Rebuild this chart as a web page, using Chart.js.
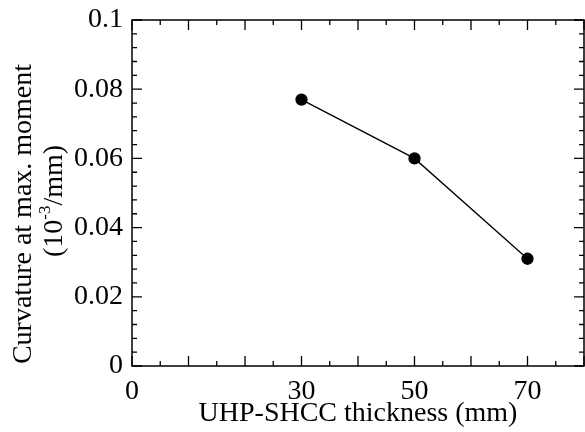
<!DOCTYPE html>
<html>
<head>
<meta charset="utf-8">
<script src="https://cdn.jsdelivr.net/npm/chart.js@4"></script>
<style>
  html, body { margin: 0; padding: 0; background: #fff; }
  #wrap { width: 585px; height: 432px; }
</style>
</head>
<body>
<div id="wrap"><canvas id="curvChart" width="585" height="432"></canvas></div>
<script>
// dados
const thickness = [30, 50, 70];
const curvature = [0.077, 0.060, 0.031];
const xTickLabels = [0, 30, 50, 70];
const yTickLabels = [0, 0.02, 0.04, 0.06, 0.08, 0.1];
const yTitleLines = ['Curvature at max. moment', '(10', '-3', '/mm)'];
const xTitle = 'UHP-SHCC thickness (mm)';

const FONT = '"Liberation Serif", "Times New Roman", serif';
const FS = 28;

// moldura e marcas de escala para dentro, nos quatro lados
const framePlugin = {
    id: 'frame',
    afterDraw(chart) {
        const ctx = chart.ctx;
        const a = chart.chartArea;
        const xs = chart.scales.x, ys = chart.scales.y;
        ctx.save();
        ctx.strokeStyle = '#000';
        ctx.lineWidth = 1.5;
        ctx.strokeRect(a.left, a.top, a.right - a.left, a.bottom - a.top);
        ctx.lineWidth = 1.3;
        ctx.beginPath();
        for (let v = 0; v <= 80; v += 5) {
            const px = xs.getPixelForValue(v);
            const len = (v % 10 === 0) ? 10 : 5;
            ctx.moveTo(px, a.bottom); ctx.lineTo(px, a.bottom - len);
            ctx.moveTo(px, a.top); ctx.lineTo(px, a.top + len);
        }
        for (let i = 0; i <= 25; i++) {
            const py = ys.getPixelForValue(i * 0.004);
            const len = (i % 5 === 0) ? 10 : 5;
            ctx.moveTo(a.left, py); ctx.lineTo(a.left + len, py);
            ctx.moveTo(a.right, py); ctx.lineTo(a.right - len, py);
        }
        ctx.stroke();

        // título do eixo y com expoente
        ctx.fillStyle = '#000';
        ctx.save();
        ctx.translate(24, 214);
        ctx.rotate(-Math.PI / 2);
        ctx.font = FS + 'px ' + FONT;
        ctx.textAlign = 'center';
        ctx.textBaseline = 'middle';
        ctx.fillText(yTitleLines[0], 0, 0);
        ctx.restore();

        ctx.save();
        ctx.translate(55, 201);
        ctx.rotate(-Math.PI / 2);
        ctx.textBaseline = 'middle';
        ctx.font = FS + 'px ' + FONT;
        const w1 = ctx.measureText(yTitleLines[1]).width;
        const w3 = ctx.measureText(yTitleLines[3]).width;
        ctx.font = '17px ' + FONT;
        const w2 = ctx.measureText(yTitleLines[2]).width;
        let x0 = -(w1 + w2 + w3) / 2;
        ctx.font = FS + 'px ' + FONT;
        ctx.textAlign = 'left';
        ctx.fillText(yTitleLines[1], x0, 0);
        ctx.font = '17px ' + FONT;
        ctx.fillText(yTitleLines[2], x0 + w1, -9);
        ctx.font = FS + 'px ' + FONT;
        ctx.fillText(yTitleLines[3], x0 + w1 + w2, 0);
        ctx.restore();
        ctx.restore();
    }
};

const data = {
    datasets: [{
        label: 'Curvature',
        data: thickness.map((t, i) => ({ x: t, y: curvature[i] })),
        borderColor: '#000',
        backgroundColor: '#000',
        borderWidth: 1.3,
        pointRadius: 5.5,
        pointHoverRadius: 5.5,
        fill: false,
        tension: 0
    }]
};

const config = {
    type: 'line',
    data: data,
    options: {
        responsive: false,
        animation: false,
        events: [],
        layout: { autoPadding: false, padding: { top: 20, right: 1, left: 0, bottom: 0 } },
        plugins: { legend: { display: false }, tooltip: { enabled: false } },
        scales: {
            x: {
                type: 'linear',
                min: 0,
                max: 80,
                afterBuildTicks: (s) => { s.ticks = xTickLabels.map(v => ({ value: v })); },
                afterFit: (s) => {
                    s.height = 66;
                    s.paddingLeft = 0; s.paddingRight = 0;
                },
                grid: { display: false, drawTicks: false, tickLength: 0 },
                border: { display: false },
                ticks: {
                    color: '#000',
                    padding: 9,
                    font: { family: FONT, size: FS },
                    maxRotation: 0,
                    callback: (v) => String(v)
                },
                title: {
                    display: true,
                    text: xTitle,
                    color: '#000',
                    font: { family: FONT, size: FS },
                    padding: { top: 0, bottom: 2 }
                }
            },
            y: {
                min: 0,
                max: 0.1,
                afterBuildTicks: (s) => { s.ticks = yTickLabels.map(v => ({ value: v })); },
                afterFit: (s) => {
                    s.width = 132;
                    s.paddingTop = 0; s.paddingBottom = 0;
                },
                grid: { display: false, drawTicks: false, tickLength: 0 },
                border: { display: false },
                ticks: {
                    color: '#000',
                    padding: 9,
                    font: { family: FONT, size: FS },
                    callback: (v) => String(Math.round(v * 100) / 100)
                }
            }
        }
    },
    plugins: [framePlugin]
};

const ctx = document.getElementById('curvChart').getContext('2d');
window.myChart = new Chart(ctx, config);
</script>
</body>
</html>
